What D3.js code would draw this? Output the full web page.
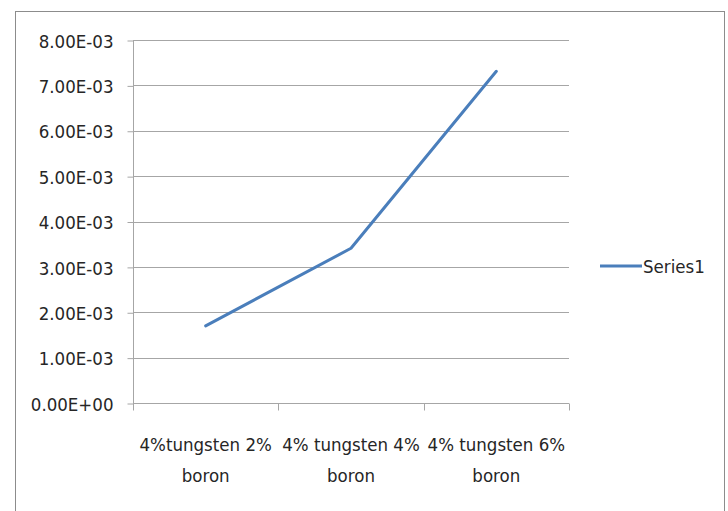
<!DOCTYPE html>
<html>
<head>
<meta charset="utf-8">
<script src="https://cdn.jsdelivr.net/npm/d3@7"></script>
<style>
  html, body { margin: 0; padding: 0; background: #fff; }
  svg { display: block; }
  text { font-family: "DejaVu Sans Condensed", "DejaVu Sans", sans-serif; font-stretch: condensed; fill: #262626; }
</style>
</head>
<body>
<svg id="chart" width="728" height="511"></svg>
<script>
// Series data
const categories = [["4%tungsten 2%", "boron"], ["4% tungsten 4%", "boron"], ["4% tungsten 6%", "boron"]];
const values = [0.00170, 0.00341, 0.00731];
const yTicks = [0, 0.001, 0.002, 0.003, 0.004, 0.005, 0.006, 0.007, 0.008];
const seriesName = "Series1";

const svg = d3.select("#chart");
const plot = { left: 133, right: 569, top: 40, bottom: 403 };
const FS = 18.5;

// Outer chart border
svg.append("rect")
  .attr("x", 15.5).attr("y", 11.5)
  .attr("width", 724 - 15).attr("height", 520)
  .attr("fill", "#fff").attr("stroke", "#8c8c8c").attr("stroke-width", 1);

const x = d3.scaleBand()
  .domain(d3.range(categories.length))
  .range([plot.left, plot.right])
  .paddingInner(0).paddingOuter(0);

const y = d3.scaleLinear()
  .domain([0, 0.008])
  .range([plot.bottom, plot.top]);

const fmt = v => {
  if (v === 0) return "0.00E+00";
  const e = Math.floor(Math.log10(v));
  const m = v / Math.pow(10, e);
  const sign = e < 0 ? "-" : "+";
  return m.toFixed(2) + "E" + sign + String(Math.abs(e)).padStart(2, "0");
};

// Horizontal gridlines
svg.append("g")
  .selectAll("line")
  .data(yTicks.filter(t => t > 0))
  .join("line")
  .attr("x1", plot.left).attr("x2", plot.right)
  .attr("y1", d => Math.round(y(d)) + 0.5)
  .attr("y2", d => Math.round(y(d)) + 0.5)
  .attr("stroke", "#a6a6a6").attr("stroke-width", 1);

// Y axis
const yAxis = svg.append("g")
  .attr("transform", `translate(${plot.left + 0.5},0.5)`)
  .call(d3.axisLeft(y).tickValues(yTicks).tickFormat(fmt).tickSize(6).tickPadding(14));
yAxis.select(".domain").attr("stroke", "#a6a6a6").attr("d", `M0,${plot.top}V${plot.bottom}`);
yAxis.selectAll(".tick line").attr("stroke", "#a6a6a6");
yAxis.selectAll(".tick text")
  .attr("font-size", FS)
  .attr("fill", "#262626")
  .attr("font-family", null)
  .attr("dy", "0.36em");
yAxis.attr("font-family", null);

// X axis
const xAxis = svg.append("g")
  .attr("transform", `translate(0,${plot.bottom + 0.5})`);
xAxis.append("line")
  .attr("x1", plot.left).attr("x2", plot.right)
  .attr("stroke", "#a6a6a6");
const tickPos = d3.range(categories.length + 1).map(i => i === categories.length ? plot.right : x(i));
xAxis.selectAll("line.tk")
  .data(tickPos)
  .join("line").attr("class", "tk")
  .attr("x1", d => Math.round(d) + 0.5).attr("x2", d => Math.round(d) + 0.5)
  .attr("y1", 0).attr("y2", 7)
  .attr("stroke", "#a6a6a6");

const labels = svg.append("g")
  .selectAll("text")
  .data(categories)
  .join("text")
  .attr("text-anchor", "middle")
  .attr("font-size", FS)
  .attr("x", (d, i) => x(i) + x.bandwidth() / 2)
  .attr("y", 451);
labels.selectAll("tspan")
  .data(d => d)
  .join("tspan")
  .attr("x", function () { return d3.select(this.parentNode).attr("x"); })
  .attr("dy", (d, i) => i === 0 ? 0 : 31)
  .text(d => d);

// Series line
const line = d3.line()
  .x((d, i) => x(i) + x.bandwidth() / 2)
  .y(d => y(d));
svg.append("path")
  .datum(values)
  .attr("d", line)
  .attr("fill", "none")
  .attr("stroke", "#4a7ebb")
  .attr("stroke-width", 3)
  .attr("stroke-linejoin", "round")
  .attr("stroke-linecap", "round");

// Legend
const lg = svg.append("g").attr("transform", "translate(600,266)");
lg.append("line")
  .attr("x1", 0).attr("x2", 42)
  .attr("stroke", "#4a7ebb").attr("stroke-width", 3);
lg.append("text")
  .attr("x", 43).attr("dy", "0.36em")
  .attr("font-size", FS)
  .text(seriesName);
</script>
</body>
</html>
